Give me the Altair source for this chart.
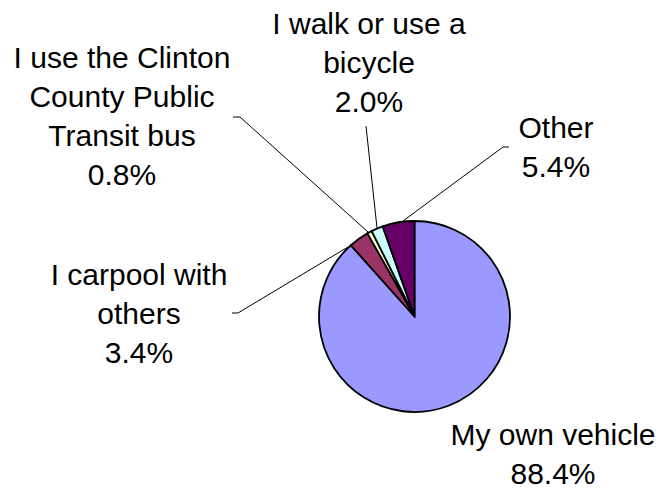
import altair as alt
import pandas as pd

# Data
categories = ["My own vehicle", "I carpool with others", "I use the Clinton County Public Transit bus",
              "I walk or use a bicycle", "Other"]
values = [88.4, 3.4, 0.8, 2.0, 5.4]
colors = ["#9999FF", "#993366", "#FFFFCC", "#CCFFFF", "#660066"]
label_texts = ["My own vehicle\n88.4%", "I carpool with\nothers\n3.4%",
               "I use the Clinton\nCounty Public\nTransit bus\n0.8%",
               "I walk or use a\nbicycle\n2.0%", "Other\n5.4%"]

# Layout (pixel positions of annotations, page coords minus 8px margin)
W, H = 647, 470
M = 8
cx, cy, R = 414.5 - M, 316.5 - M, 95.5
label_x = [553, 139, 122, 369, 556]
label_y = [445, 285, 68, 34, 138]
leaders = {
    "I carpool with others": [(232, 313), (238, 313), (348, 247)],
    "I use the Clinton County Public Transit bus": [(233, 117), (240, 117), (368, 232)],
    "I walk or use a bicycle": [(366, 126), (377, 228)],
    "Other": [(509, 147), (503, 147), (403, 221)],
}

pie_df = pd.DataFrame({"cat": categories, "value": values, "order": list(range(len(values)))})

xs = alt.Scale(domain=[0, W], range=[0, W])
ys = alt.Scale(domain=[0, H], range=[0, H])

pie = alt.Chart(pie_df).mark_arc(outerRadius=R, stroke="black", strokeWidth=1.8).encode(
    theta=alt.Theta("value:Q", stack=True),
    order=alt.Order("order:Q"),
    color=alt.Color("cat:N", scale=alt.Scale(domain=categories, range=colors), legend=None),
    x=alt.value(cx), y=alt.value(cy),
)

rows = []
for cat, pts in leaders.items():
    for i, (px, py) in enumerate(pts):
        rows.append({"cat": cat, "i": i, "x": px - M, "y": py - M})
lead_df = pd.DataFrame(rows)

lines = alt.Chart(lead_df).mark_line(color="black", strokeWidth=1).encode(
    x=alt.X("x:Q", scale=xs, axis=None),
    y=alt.Y("y:Q", scale=ys, axis=None),
    detail="cat:N",
    order="i:Q",
)

lab_df = pd.DataFrame({"t": label_texts,
                       "x": [v - M for v in label_x],
                       "y": [v - M for v in label_y]})
labels = alt.Chart(lab_df).mark_text(
    lineBreak="\n", align="center", baseline="alphabetic",
    fontSize=30, lineHeight=39, font="Liberation Sans", color="black"
).encode(
    x=alt.X("x:Q", scale=xs, axis=None),
    y=alt.Y("y:Q", scale=ys, axis=None),
    text="t:N",
)

chart = alt.layer(lines, pie, labels).properties(
    width=W, height=H, autosize=alt.AutoSizeParams(type="none"),
    padding={"left": 0, "top": 0, "right": 0, "bottom": 12}
).configure(background="white").configure_view(stroke=None, strokeWidth=0)

chart.save("out.html", embed_options={"renderer": "svg", "actions": False})
